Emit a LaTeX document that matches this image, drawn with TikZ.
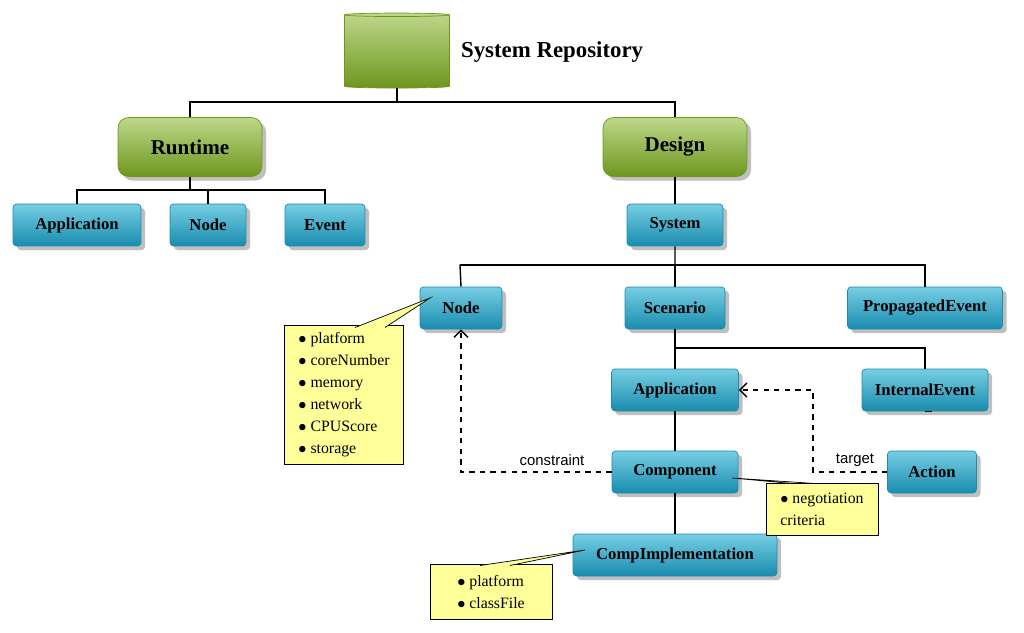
\documentclass[tikz,border=0pt]{standalone}
\usepackage{fontspec}
\setmainfont{Liberation Serif}
\newfontfamily\lblfont{Liberation Sans}
\usetikzlibrary{positioning,shapes.geometric,arrows.meta,shadows}
\definecolor{leafgreen}{RGB}{146,190,60}
\definecolor{leafdark}{RGB}{110,150,30}
\definecolor{boxblue}{RGB}{60,185,215}
\definecolor{boxdark}{RGB}{25,140,175}
\definecolor{noteyellow}{RGB}{255,255,153}
\tikzset{
  green box/.style={rounded corners=6pt, draw=leafdark, top color=leafgreen!60, bottom color=leafdark,
    minimum width=2.88cm, minimum height=1.18cm, font=\fontsize{12}{14}\selectfont\bfseries, drop shadow},
  blue box/.style={rounded corners=2pt, draw=boxdark, top color=boxblue!70, bottom color=boxdark,
    minimum height=0.84cm, font=\fontsize{9.5}{11}\selectfont\bfseries, drop shadow},
  note/.style={draw, fill=noteyellow, align=left, font=\fontsize{9}{12.5}\selectfont, inner sep=4pt},
  tree/.style={thick},
  link/.style={thick, dashed, -{Straight Barb[length=4pt]}},
  tag/.style={font=\lblfont\fontsize{8.5}{10}\selectfont, fill=white, inner sep=1pt}
}
\begin{document}
\begin{tikzpicture}[x=0.02cm,y=-0.02cm]
\useasboundingbox (0,0) rectangle (1024,632);
% repository
\node[cylinder, shape border rotate=90, aspect=0.3, draw=leafdark, top color=leafgreen!60, bottom color=leafdark,
  minimum width=2.1cm, minimum height=1.5cm] (repo) at (397,52) {};
\node[font=\fontsize{13}{15}\selectfont\bfseries, right=0.1cm of repo] (repotext) {System Repository};
% top level
\node[green box] (runtime) at (190,147) {Runtime};
\node[green box] (design) at (675,147) {Design};
% runtime children
\node[blue box, minimum width=2.56cm] (rapp) at (77,225) {Application};
\node[blue box, minimum width=1.52cm] (rnode) at (208,225) {Node};
\node[blue box, minimum width=1.6cm] (revent) at (325,225) {Event};
% design children
\node[blue box, minimum width=1.92cm] (system) at (675,225) {System};
\node[blue box, minimum width=1.64cm] (dnode) at (461,308) {Node};
\node[blue box, minimum width=2.0cm] (scenario) at (675,308) {Scenario};
\node[blue box, minimum width=3.1cm] (propevent) at (925,308) {PropagatedEvent};
\node[blue box, minimum width=2.54cm] (dapp) at (675,390) {Application};
\node[blue box, minimum width=2.52cm] (intevent) at (925,390) {InternalEvent};
\node[blue box, minimum width=2.52cm] (component) at (675,472) {Component};
\node[blue box, minimum width=1.78cm] (action) at (932,472) {Action};
\node[blue box, minimum width=4.08cm] (compimpl) at (675,555) {CompImplementation};
% tree lines
\draw[tree] (repo.south) |- (190,102) coordinate (j1) -- (runtime.north);
\draw[tree] (j1) -| (design.north);
\draw[tree] (runtime.south) |- (77,190) coordinate (j2) -- (rapp.north);
\draw[tree] (j2) -| (revent.north);
\draw[tree] (rnode.north) -- (rnode.north |- j2);
\draw[tree] (design.south) -- (system.north);
\draw[tree] (system.south) |- (460,265) coordinate (j3) -- (dnode.north);
\draw[tree] (j3) -| (propevent.north);
\draw[tree] (scenario.north) -- (scenario.north |- j3);
\draw[tree] (scenario.south) -- (dapp.north);
\draw[tree] (675,348) -| (intevent.north);
\draw[tree] (intevent.south) -- (intevent.south -| action.north);
\draw[tree] (dapp.south) -- (component.north);
\draw[tree] (component.south) -- (compimpl.north);
% dashed links
\draw[link] (component.west) -| (dnode.south);
\node[tag] at (552,460) {constraint};
\draw[link] (action.west) -- (813,472) |- (dapp.east);
\node[tag] at (855,460) {target};
% notes
\node[note, minimum width=2.38cm, minimum height=2.72cm] (nodenote) at (344,395)
  {$\bullet$ platform\\ $\bullet$ coreNumber\\ $\bullet$ memory\\ $\bullet$ network\\ $\bullet$ CPUScore\\ $\bullet$ storage};
\filldraw[fill=noteyellow] (355,327.5) -- (430,298) -- (385,327.5);
\node[note, minimum width=2.24cm, minimum height=1.04cm] (compnote) at (822,509)
  {$\bullet$ negotiation\\criteria};
\filldraw[fill=noteyellow] (732,478) -- (792,483.5) -- (815,483.5) -- cycle;
\node[note, minimum width=2.44cm, minimum height=1.1cm] (implnote) at (491,592)
  {$\bullet$ platform\\ $\bullet$ classFile};
\filldraw[fill=noteyellow] (480,565.5) -- (585,550) -- (510,565.5);
\end{tikzpicture}
\end{document}
